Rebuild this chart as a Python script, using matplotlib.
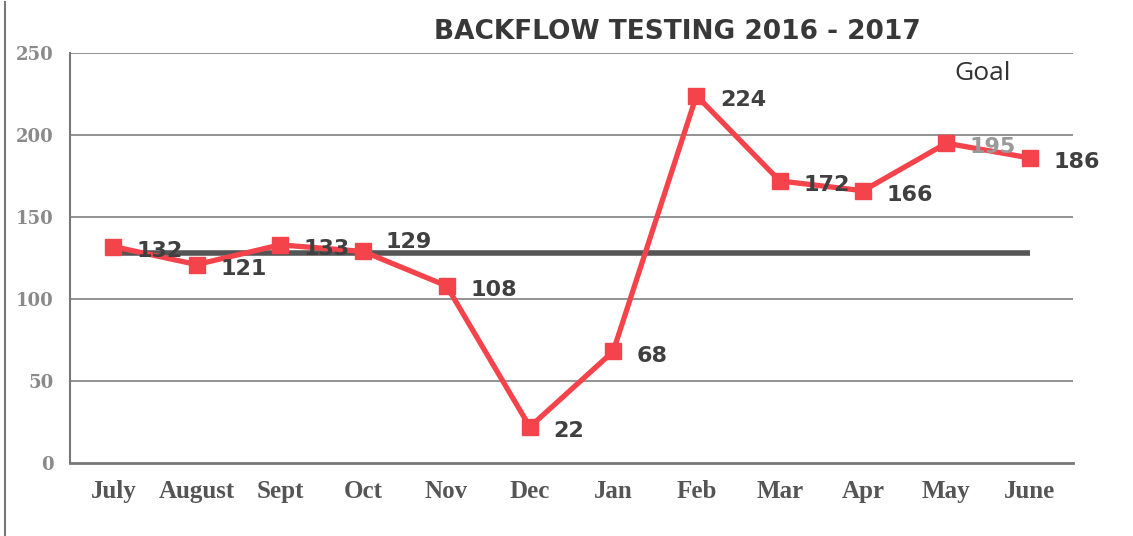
import matplotlib
matplotlib.use("Agg")
import matplotlib.pyplot as plt
from matplotlib.lines import Line2D

months = ["July", "August", "Sept", "Oct", "Nov", "Dec", "Jan", "Feb", "Mar", "Apr", "May", "June"]
tests = [132, 121, 133, 129, 108, 22, 68, 224, 172, 166, 195, 186]
goal = 128
yticks = [0, 50, 100, 150, 200, 250]

fig = plt.figure(figsize=(11.33, 5.36), dpi=100)
ax = fig.add_axes([70/1133, 1-463/536, (1073-70)/1133, 410/536])

x = list(range(len(months)))
ax.set_xlim(-0.52, len(months) - 1 + 0.52)
ax.set_ylim(0, 250)

for v in yticks[1:]:
    ax.axhline(v, color="#8a8a8a", lw=1.3, zorder=1)

ax.plot([x[0], x[-1]], [goal, goal], color="#555555", lw=4, solid_capstyle="butt", zorder=2)
ax.plot(x, tests, color="#f5434b", lw=3.8, marker="s", markersize=12, zorder=3)

offsets = {"Oct": (16, 7)}
for xi, v, m in zip(x, tests, months):
    col = "#999999" if m == "May" else "#404040"
    ax.annotate(str(v), (xi, v), xytext=offsets.get(m, (17, -3)), textcoords="offset points",
                ha="left", va="center", fontsize=16, fontweight="bold", color=col, zorder=4)

ax.text(10.43, 237.5, "Goal", fontsize=19, color="#333333", ha="center", va="center",
        family="Open Sans")

ax.set_xticks(x)
ax.set_xticklabels(months, family="Liberation Serif", fontweight="bold", fontsize=18, color="#555555")
ax.set_yticks(yticks)
ax.set_yticklabels([str(t) for t in yticks], family="DejaVu Serif", fontweight="bold", fontsize=13, color="#8a8a8a")
ax.tick_params(axis="both", length=0)
ax.tick_params(axis="x", pad=12)
ax.tick_params(axis="y", pad=12)

for s in ["top", "right"]:
    ax.spines[s].set_visible(False)
ax.spines["left"].set_color("#777777")
ax.spines["left"].set_linewidth(1.5)
ax.spines["bottom"].set_color("#777777")
ax.spines["bottom"].set_linewidth(2)

fig.text(677/1133, 1-32/536, "BACKFLOW TESTING 2016 - 2017", ha="center", va="center",
         fontsize=19, fontweight="heavy", color="#383838", family="DejaVu Sans")

fig.add_artist(Line2D([5/1133, 5/1133], [1-2/536, 0], color="#777777", lw=1.5))

fig.savefig("out.png", dpi=100, facecolor="white")
